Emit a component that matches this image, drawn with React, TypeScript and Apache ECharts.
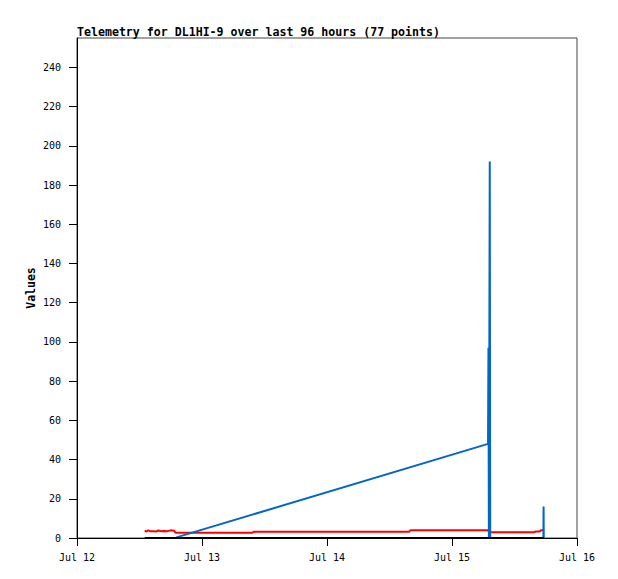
import React, { useEffect, useRef } from "react";
import * as echarts from "echarts";

const TITLE = "Telemetry for DL1HI-9 over last 96 hours (77 points)";
const Y_NAME = "Values";

// x-axis ticks (UTC dates) and their labels
const xTickDates = ["2024-07-12T00:00Z", "2024-07-13T00:00Z", "2024-07-14T00:00Z", "2024-07-15T00:00Z", "2024-07-16T00:00Z"];
const xTickLabels = ["Jul 12", "Jul 13", "Jul 14", "Jul 15", "Jul 16"];
const yTicks = [0, 20, 40, 60, 80, 100, 120, 140, 160, 180, 200, 220, 240];
const Y_MAX = 255;

// red series
const redTimes = [
  "2024-07-12T13:00Z", "2024-07-12T13:20Z", "2024-07-12T13:40Z", "2024-07-12T14:10Z", "2024-07-12T14:40Z",
  "2024-07-12T15:10Z", "2024-07-12T15:40Z", "2024-07-12T16:10Z", "2024-07-12T16:40Z", "2024-07-12T17:20Z",
  "2024-07-12T18:00Z", "2024-07-12T18:40Z", "2024-07-12T18:55Z", "2024-07-13T09:40Z", "2024-07-13T09:55Z",
  "2024-07-14T15:45Z", "2024-07-14T16:00Z", "2024-07-15T06:55Z", "2024-07-15T07:10Z", "2024-07-15T15:45Z",
  "2024-07-15T16:00Z", "2024-07-15T16:50Z", "2024-07-15T17:05Z", "2024-07-15T17:35Z",
];
const redValues = [
  3.8, 3.3, 3.9, 3.4, 3.5,
  3.3, 3.8, 3.4, 3.6, 3.5,
  3.9, 3.7, 2.7, 2.7, 3.2,
  3.2, 3.9, 3.9, 2.9, 2.9,
  3.3, 3.3, 3.9, 3.9,
];

// blue series
const blueTimes = [
  "2024-07-12T19:05Z", "2024-07-15T06:55Z", "2024-07-15T07:00Z", "2024-07-15T07:05Z", "2024-07-15T07:15Z",
  "2024-07-15T07:20Z", "2024-07-15T17:33Z", "2024-07-15T17:35Z", "2024-07-15T17:37Z",
];
const blueValues = [0.3, 48, 97, 0, 192, 0, 0, 16, 0];

// black series
const blackTimes = ["2024-07-12T13:00Z", "2024-07-15T17:40Z"];
const blackValues = [0, 0];

const toPairs = (times: string[], values: number[]) =>
  times.map((t, i) => [Date.parse(t), values[i]]);

export default function App() {
  const ref = useRef<HTMLDivElement>(null);

  useEffect(() => {
    if (!ref.current) return;
    const chart = echarts.init(ref.current, null, { renderer: "svg" });
    const xTickValues = xTickDates.map((d) => Date.parse(d));
    const font = "'DejaVu Sans Mono', 'Liberation Mono', monospace";
    const lineSeries = (data: number[][], color: string) => ({
      type: "line",
      data,
      showSymbol: false,
      symbol: "none",
      lineStyle: { color, width: 2 },
      itemStyle: { color },
      silent: true,
    });
    chart.setOption({
      animation: false,
      backgroundColor: "#ffffff",
      title: {
        text: TITLE,
        left: 72,
        top: 21,
        textStyle: { fontFamily: font, fontSize: 11.6, fontWeight: "bold", color: "#000" },
      },
      grid: {
        left: 77,
        top: 38,
        width: 500,
        height: 500,
        show: true,
        borderColor: "#444",
        borderWidth: 1,
        backgroundColor: "transparent",
      },
      xAxis: {
        type: "value",
        min: xTickValues[0],
        max: xTickValues[xTickValues.length - 1],
        interval: 86400000,
        splitLine: { show: false },
        axisLine: { show: true, lineStyle: { color: "#000", width: 1 } },
        axisTick: { show: true, length: 8, inside: false, lineStyle: { color: "#000" }, customValues: xTickValues },
        axisLabel: {
          customValues: xTickValues,
          margin: 14,
          fontFamily: font,
          fontSize: 10,
          color: "#000",
          formatter: (v: number) => {
            const i = xTickValues.indexOf(v);
            return i >= 0 ? xTickLabels[i] : "";
          },
        },
      },
      yAxis: {
        type: "value",
        min: 0,
        max: Y_MAX,
        interval: 20,
        name: Y_NAME,
        nameLocation: "middle",
        nameGap: 40,
        nameMoveOverlap: false,
        nameRotate: 90,
        nameTextStyle: { fontFamily: font, fontSize: 11.5, fontWeight: "bold", color: "#000" },
        splitLine: { show: false },
        axisLine: { show: true, lineStyle: { color: "#000", width: 1 } },
        axisTick: { show: true, length: 8, inside: false, lineStyle: { color: "#000" }, customValues: yTicks },
        axisLabel: {
          customValues: yTicks,
          margin: 16,
          fontFamily: font,
          fontSize: 10,
          color: "#000",
        },
      },
      series: [
        lineSeries(toPairs(redTimes, redValues), "#ff0000"),
        lineSeries(toPairs(blueTimes, blueValues), "#0066cc"),
        lineSeries(toPairs(blackTimes, blackValues), "#000000"),
      ],
    });
    return () => chart.dispose();
  }, []);

  return (
    <div
      ref={ref}
      style={{ position: "fixed", left: 0, top: 0, width: 618, height: 579, background: "#fff" }}
    />
  );
}
